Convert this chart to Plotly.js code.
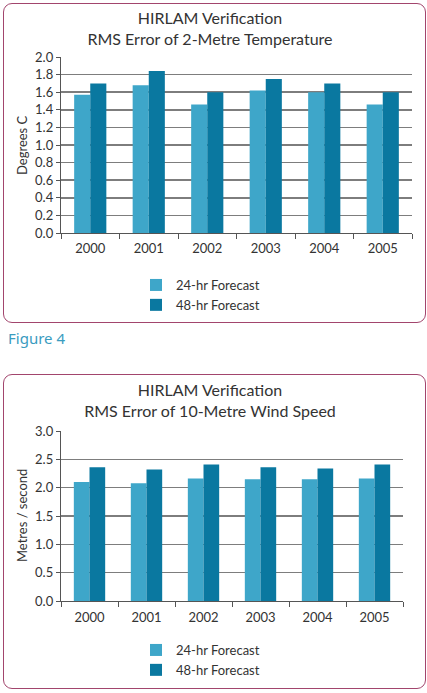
<!DOCTYPE html>
<html>
<head>
<meta charset="utf-8">
<script src="https://cdn.plot.ly/plotly-3.0.1.min.js"></script>
<style>
  html, body { margin:0; padding:0; background:#ffffff; }
  #page { position:relative; width:427px; height:693px; overflow:hidden; font-family: Lato, "Open Sans", sans-serif; }
  .box { position:absolute; border:1.5px solid #a2456d; border-radius:9px; box-sizing:border-box; }
  .chart { position:absolute; left:0; }
  #fig { position:absolute; left:8px; top:328px; font-size:15px; color:#3a9cbf; font-family: "Noto Sans", Lato, sans-serif; }
</style>
</head>
<body>
<div id="page">
  <div class="box" style="left:3px; top:3px; width:423px; height:320px;"></div>
  <div class="box" style="left:3px; top:374px; width:423px; height:315px;"></div>
  <div id="c1" class="chart" style="top:0px; width:427px; height:325px;"></div>
  <div id="fig">Figure 4</div>
  <div id="c2" class="chart" style="top:360px; width:427px; height:333px;"></div>
</div>
<script>
const years = ['2000', '2001', '2002', '2003', '2004', '2005'];
const seriesNames = ['24-hr Forecast', '48-hr Forecast'];
const temp24 = [1.57, 1.68, 1.46, 1.62, 1.60, 1.46];
const temp48 = [1.70, 1.84, 1.60, 1.75, 1.70, 1.60];
const wind24 = [2.10, 2.08, 2.16, 2.15, 2.15, 2.16];
const wind48 = [2.36, 2.32, 2.41, 2.36, 2.34, 2.41];
const tempTicks = [0, 0.2, 0.4, 0.6, 0.8, 1.0, 1.2, 1.4, 1.6, 1.8, 2.0];
const windTicks = [0, 0.5, 1.0, 1.5, 2.0, 2.5, 3.0];
const colors = ['#3ea6c9', '#0a78a0'];

const FONT = 'Lato, "Open Sans", sans-serif';

function makeChart(id, titleText, yTitle, v24, v48, ticks, yMax, h, margin, titleY, legendY, yTitleX, xStandoff) {
  const traces = [
    { type:'bar', x: years, y: v24, name: seriesNames[0], marker:{color: colors[0]} },
    { type:'bar', x: years, y: v48, name: seriesNames[1], marker:{color: colors[1]} }
  ];
  margin.autoexpand = false;
  const layout = {
    width: 427, height: h,
    margin: margin,
    paper_bgcolor: 'rgba(0,0,0,0)',
    plot_bgcolor: 'rgba(0,0,0,0)',
    font: { family: FONT, size: 13, color: '#333333' },
    title: {
      text: titleText,
      font: { family: FONT, size: 16, color: '#333333' },
      xref: 'container', x: 210/427, xanchor: 'center',
      yref: 'container', y: titleY, yanchor: 'top', automargin: false
    },
    barmode: 'group', bargap: 0.45, bargroupgap: 0,
    xaxis: {
      type: 'category', automargin: false, tickangle: 0,
      showline: true, linecolor: '#555555', linewidth: 1.2,
      ticks: 'outside', tickson: 'boundaries', ticklen: 5, tickcolor: '#555555', tickwidth: 1,
      ticklabelstandoff: xStandoff,
      showgrid: false, tickfont: { size: 13, color: '#333333' }
    },
    yaxis: {
      range: [0, yMax], tickvals: ticks, tickformat: '.1f', automargin: false,
      showline: true, linecolor: '#555555', linewidth: 1.2,
      ticks: 'outside', ticklen: 4, tickcolor: '#555555',
      showgrid: true, gridcolor: '#7d7d7d', gridwidth: 1.5,
      zeroline: false,
      tickfont: { size: 13, color: '#333333' }
    },
    annotations: [{
      text: yTitle, textangle: -90, showarrow: false,
      xref: 'paper', yref: 'paper', x: yTitleX, y: 0.5,
      xanchor: 'center', yanchor: 'middle',
      font: { family: FONT, size: 13, color: '#333333' }
    }],
    showlegend: true,
    legend: {
      orientation: 'v', xref: 'container', yref: 'container',
      x: 136/427, xanchor: 'left', y: legendY, yanchor: 'top',
      font: { size: 13, color: '#333333' }, tracegroupgap: 0, itemwidth: 30
    }
  };
  Plotly.newPlot(id, traces, layout, { displayModeBar: false, staticPlot: true });
}

makeChart('c1', 'HIRLAM Verification<br>RMS Error of 2-Metre Temperature', 'Degrees C',
  temp24, temp48, tempTicks, 2.0, 325, { l: 61, r: 15, t: 57, b: 92 },
  1 - 24/325, 1 - 270/325, (22 - 61) / 351, 3);
makeChart('c2', 'HIRLAM Verification<br>RMS Error of 10-Metre Wind Speed', 'Metres / second',
  wind24, wind48, windTicks, 3.0, 333, { l: 61, r: 24, t: 71, b: 92 },
  1 - 36/333, 1 - 275/333, (22 - 61) / 342, 4);
</script>
</body>
</html>
